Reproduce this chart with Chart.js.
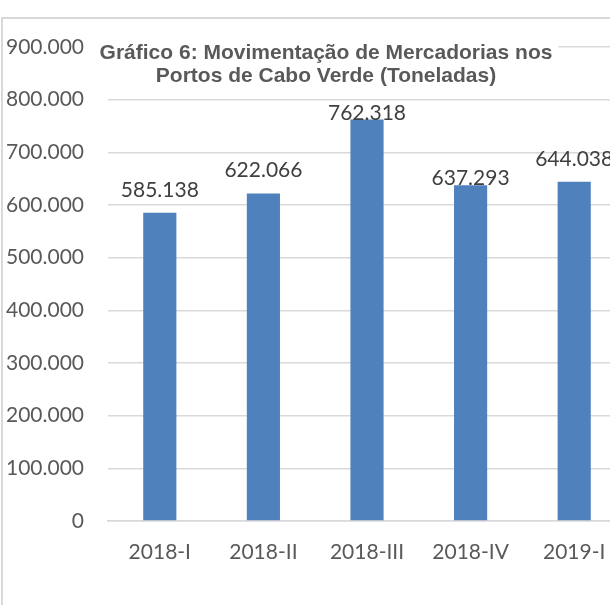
<!DOCTYPE html>
<html>
<head>
<meta charset="utf-8">
<script src="https://cdn.jsdelivr.net/npm/chart.js@4/dist/chart.umd.min.js"></script>
<style>
  html, body { margin: 0; padding: 0; background: #fff; overflow: hidden; width: 610px; height: 605px; }
  #caixa { position: absolute; left: 1px; top: 17px; width: 700px; height: 700px; border: 2px solid #d9d9d9; }
  #grafico { position: absolute; left: 0; top: 0; width: 636px; height: 586px; }
</style>
</head>
<body>
<div id="caixa"><canvas id="grafico" width="636" height="586"></canvas></div>
<script>
// dados do grafico
const trimestres = ['2018-I', '2018-II', '2018-III', '2018-IV', '2019-I'];
const toneladas = [585138, 622066, 762318, 637293, 644038];
const tituloLinhas = ['Gráfico 6: Movimentação de Mercadorias nos', 'Portos de Cabo Verde (Toneladas)'];
const eixoMax = 900000;
const eixoPasso = 100000;

// ajustes das etiquetas (Excel empurrou algumas para baixo)
const ajusteEtiqueta = [0, 0, 16, 16, 0];

const fonteBase = 'Lato, "Noto Sans", sans-serif';

const pontos = (v) => String(v).replace(/\B(?=(\d{3})+(?!\d))/g, '.');

const etiquetas = {
    id: 'etiquetas',
    afterDatasetsDraw(chart) {
        const ctx = chart.ctx;
        const meta = chart.getDatasetMeta(0);
        ctx.save();
        ctx.font = '21px ' + fonteBase;
        ctx.fillStyle = '#404040';
        ctx.textAlign = 'center';
        ctx.textBaseline = 'alphabetic';
        meta.data.forEach((barra, i) => {
            ctx.fillText(pontos(toneladas[i]), barra.x, barra.y - 16 + ajusteEtiqueta[i]);
        });
        ctx.restore();
    }
};

const titulo = {
    id: 'titulo',
    afterDraw(chart) {
        const ctx = chart.ctx;
        const cx = 323;
        ctx.save();
        ctx.font = 'bold 21px "Liberation Sans", Arial, sans-serif';
        const larg = Math.max(...tituloLinhas.map(t => ctx.measureText(t).width));
        ctx.fillStyle = '#ffffff';
        ctx.fillRect(cx - larg / 2 - 6, 21, larg + 12, 46);
        ctx.fillStyle = '#595959';
        ctx.textAlign = 'center';
        ctx.textBaseline = 'middle';
        tituloLinhas.forEach((t, i) => ctx.fillText(t, cx, 34 + i * 23));
        ctx.restore();
    }
};

new Chart(document.getElementById('grafico'), {
    type: 'bar',
    data: {
        labels: trimestres,
        datasets: [{
            data: toneladas,
            backgroundColor: '#4f81bd',
            borderWidth: 0,
            barPercentage: 0.32,
            categoryPercentage: 1
        }]
    },
    options: {
        responsive: false,
        animation: false,
        layout: { padding: { top: 28, right: 13, bottom: 0, left: 0 } },
        plugins: {
            legend: { display: false },
            title: { display: false },
            tooltip: { enabled: false }
        },
        scales: {
            x: {
                grid: { display: false, drawTicks: false },
                border: { display: true, color: '#d9d9d9', width: 1.5 },
                ticks: { color: '#595959', font: { family: fonteBase, size: 21 }, padding: 19, maxRotation: 0 },
                afterFit: (escala) => { escala.height = 84; }
            },
            y: {
                min: 0,
                max: eixoMax,
                grid: { color: '#d9d9d9', lineWidth: 1.5, drawTicks: false },
                border: { display: false },
                ticks: {
                    stepSize: eixoPasso,
                    color: '#595959',
                    font: { family: fonteBase, size: 21 },
                    padding: 24,
                    callback: (v) => pontos(v)
                },
                afterFit: (escala) => {
                    escala.width = 105;
                    escala.paddingTop = 0;
                    escala.paddingBottom = 0;
                }
            }
        }
    },
    plugins: [etiquetas, titulo]
});
</script>
</body>
</html>
